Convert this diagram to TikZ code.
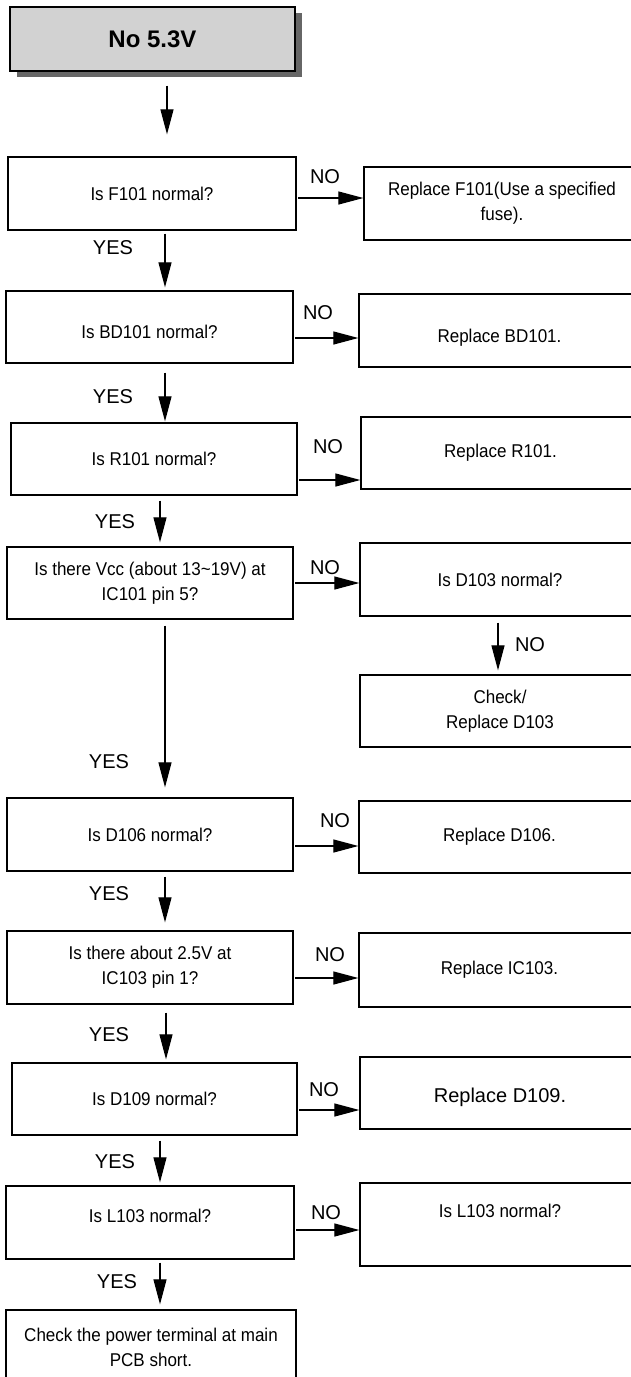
\documentclass[tikz,border=0pt]{standalone}
\usepackage{fontspec}
\setmainfont{Liberation Sans}
\newfontfamily\condfont{Liberation Sans}[FakeStretch=0.92]
\usetikzlibrary{arrows.meta,shadows}
\definecolor{titlefill}{HTML}{D2D2D2}
\definecolor{shadowgray}{HTML}{666666}
\begin{document}
\begin{tikzpicture}[x=1pt,y=-1pt,
  box/.style={draw=black, line width=1.3pt, rectangle, inner sep=0pt,
    minimum height=72pt, align=center, font=\condfont\fontsize{18.5}{25}\selectfont},
  lbox/.style={box, minimum width=287pt},
  rbox/.style={box, minimum width=280pt},
  titlebox/.style={draw=black, line width=1.3pt, fill=titlefill,
    minimum width=285pt, minimum height=64pt,
    font=\fontsize{24}{28}\selectfont\bfseries,
    drop shadow={shadow xshift=7pt, shadow yshift=-6pt, fill=shadowgray, opacity=1}},
  arr/.style={line width=1.2pt, -{Triangle[length=25pt,width=13pt]}},
  tag/.style={font=\fontsize{20}{24}\selectfont, inner sep=0pt}
]
\path[use as bounding box] (0,0) rectangle (631,1377);
\clip (0,0) rectangle (631,1377);

% boxes of the main column
\node[titlebox] (start) at (152.5,39) {No 5.3V};
\node[lbox, minimum width=288pt, minimum height=73pt] (f101) at (152,193.5) {Is F101 normal?};
\node[lbox, text height=24pt] (bd) at (149.5,327) {Is BD101 normal?};
\node[lbox, minimum width=286pt] (r101) at (154,459) {Is R101 normal?};
\node[lbox, minimum width=286pt] (vcc) at (150,583) {Is there Vcc (about 13\textasciitilde19V) at\\IC101 pin 5?};
\node[lbox, minimum width=286pt, minimum height=73pt] (d106) at (150,834.5) {Is D106 normal?};
\node[lbox, minimum width=286pt, minimum height=73pt] (v25) at (150,967.5) {Is there about 2.5V at\\IC103 pin 1?};
\node[lbox, minimum width=285pt] (d109) at (154.5,1099) {Is D109 normal?};
\node[lbox, minimum width=288pt, minimum height=73pt, text depth=14pt] (l103) at (150,1222.5) {Is L103 normal?};
\node[lbox, minimum width=290pt, minimum height=75pt] (fin) at (151,1347.5) {Check the power terminal at main\\PCB short.};

% boxes of the side column
\node[rbox, minimum width=276pt, minimum height=73pt] (rf101) at (502,203.5) {Replace F101(Use a specified\\fuse).};
\node[rbox, minimum width=281pt, minimum height=73pt, text height=27pt] (rbd) at (499.5,330.5) {Replace BD101.};
\node[rbox, minimum width=279pt] (rr101) at (500.5,453) {Replace R101.};
\node[rbox, minimum height=73pt] (d103) at (500,579.5) {Is D103 normal?};
\node[rbox] (chk) at (500,711) {Check/\\Replace D103};
\node[rbox, minimum width=281pt] (rd106) at (499.5,837) {Replace D106.};
\node[rbox, minimum width=281pt, minimum height=74pt] (ric103) at (499.5,970) {Replace IC103.};
\node[rbox, font=\fontsize{20}{24}\selectfont, text height=24pt] (rd109) at (500,1093) {Replace D109.};
\node[rbox, minimum height=83pt, text depth=28pt] (rl103) at (500,1224.5) {Is L103 normal?};

% heights of the NO connectors
\coordinate (h1) at (0,198);
\coordinate (h2) at (0,338);
\coordinate (h3) at (0,480);
\coordinate (h4) at (0,583);
\coordinate (h5) at (0,846);
\coordinate (h6) at (0,978);
\coordinate (h7) at (0,1110);
\coordinate (h8) at (0,1230);

% columns of the YES connectors
\coordinate (ca) at (167,0);
\coordinate (cb) at (165,0);
\coordinate (cc) at (160,0);
\coordinate (cd) at (166,0);
\coordinate (ce) at (498,0);

% NO connectors
\draw[arr, shorten <=1.5pt] (f101.east |- h1) -- (rf101.west |- h1);
\draw[arr, shorten <=1.5pt] (bd.east |- h2) -- (rbd.west |- h2);
\draw[arr, shorten <=1.5pt] (r101.east |- h3) -- (rr101.west |- h3);
\draw[arr, shorten <=1.5pt] (vcc.east |- h4) -- (d103.west |- h4);
\draw[arr, shorten <=1.5pt] (d106.east |- h5) -- (rd106.west |- h5);
\draw[arr, shorten <=1.5pt] (v25.east |- h6) -- (ric103.west |- h6);
\draw[arr, shorten <=1.5pt] (d109.east |- h7) -- (rd109.west |- h7);
\draw[arr, shorten <=1.5pt] (l103.east |- h8) -- (rl103.west |- h8);
\draw[arr, shorten <=6pt, shorten >=4pt] (d103.south -| ce) -- (chk.north -| ce);

% YES connectors
\draw[arr, shorten <=14pt, shorten >=22pt] (start.south -| ca) -- (f101.north -| ca);
\draw[arr, shorten <=3pt, shorten >=3pt] (f101.south -| cb) -- (bd.north -| cb);
\draw[arr, shorten <=9pt, shorten >=1pt] (bd.south -| cb) -- (r101.north -| cb);
\draw[arr, shorten <=5pt, shorten >=4pt] (r101.south -| cc) -- (vcc.north -| cc);
\draw[arr, shorten <=6pt, shorten >=10pt] (vcc.south -| cb) -- (d106.north -| cb);
\draw[arr, shorten <=5pt, shorten >=8pt] (d106.south -| cb) -- (v25.north -| cb);
\draw[arr, shorten <=8pt, shorten >=3pt] (v25.south -| cd) -- (d109.north -| cd);
\draw[arr, shorten <=5pt, shorten >=3pt] (d109.south -| cc) -- (l103.north -| cc);
\draw[arr, shorten <=3pt, shorten >=5pt] (l103.south -| cc) -- (fin.north -| cc);

% labels
\node[tag] (no1) at (325,177) {NO};
\node[tag] (no2) at (318,313) {NO};
\node[tag] (no3) at (328,447) {NO};
\node[tag] (no4) at (325,568) {NO};
\node[tag] (no5) at (530,645) {NO};
\node[tag] (no6) at (335,821) {NO};
\node[tag] (no7) at (330,955) {NO};
\node[tag] (no8) at (324,1090) {NO};
\node[tag] (no9) at (326,1213) {NO};
\node[tag] (yes1) at (113,248) {YES};
\node[tag] (yes2) at (113,397) {YES};
\node[tag] (yes3) at (115,522) {YES};
\node[tag] (yes4) at (109,762) {YES};
\node[tag] (yes5) at (109,894) {YES};
\node[tag] (yes6) at (109,1035) {YES};
\node[tag] (yes7) at (115,1162) {YES};
\node[tag] (yes8) at (117,1282) {YES};
\end{tikzpicture}
\end{document}
